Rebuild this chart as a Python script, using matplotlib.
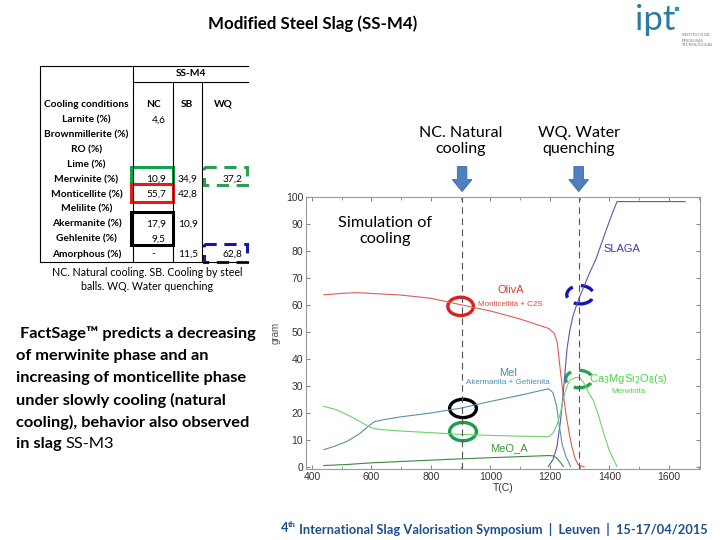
import matplotlib
matplotlib.use("Agg")
import matplotlib.pyplot as plt
from matplotlib.patches import Ellipse, Rectangle, FancyArrow
from matplotlib.ticker import MultipleLocator

# ---- FactSage cooling simulation (T in C, mass in gram) ----
t_oliv = [440, 500, 550, 600, 700, 800, 905, 1000, 1100, 1196, 1215, 1225, 1235, 1245, 1255, 1265, 1275, 1285, 1295, 1305, 1315]
oliv = [63.8, 64.3, 64.6, 64.3, 63.7, 62.5, 60.0, 57.8, 54.8, 51.3, 49.5, 46.0, 36.0, 27.0, 19.0, 12.5, 7.0, 3.0, 0.8, 0.2, 0.0]

t_slag = [1195, 1210, 1224, 1236, 1247, 1258, 1268, 1278, 1290, 1300, 1315, 1336, 1355, 1370, 1390, 1410, 1426, 1655]
slag = [0.0, 2.5, 7.4, 17.0, 29.7, 44.0, 51.0, 56.0, 60.0, 63.0, 67.0, 72.5, 77.0, 81.7, 88.0, 94.0, 98.4, 98.4]

t_mel = [440, 480, 520, 560, 590, 610, 640, 700, 800, 905, 1000, 1100, 1196, 1210, 1222, 1232, 1242, 1255, 1270]
mel = [6.3, 7.7, 9.5, 12.2, 15.0, 16.7, 17.4, 18.5, 19.9, 21.8, 24.2, 26.5, 28.9, 27.5, 23.0, 15.0, 8.0, 3.5, 0.0]

t_merw = [440, 480, 520, 560, 590, 610, 640, 700, 800, 905, 1000, 1100, 1196, 1210, 1224, 1236, 1247, 1258, 1269, 1285, 1300, 1315, 1330, 1347, 1365, 1381, 1400, 1426]
merw = [22.4, 21.2, 19.2, 16.8, 14.9, 14.1, 13.7, 13.2, 12.6, 11.9, 11.6, 11.3, 11.1, 12.3, 15.5, 20.0, 26.0, 30.0, 32.2, 33.0, 33.2, 31.0, 27.5, 24.5, 18.5, 12.4, 6.0, 0.0]

t_meo = [440, 520, 600, 700, 800, 905, 1000, 1100, 1195, 1212, 1225, 1236, 1246]
meo = [0.4, 0.8, 1.4, 1.9, 2.4, 2.9, 3.3, 3.7, 4.1, 4.0, 3.0, 1.5, 0.0]

t_nc, t_wq = 905, 1297

# ---- table (XRD quantification) ----
rows = ["Cooling conditions", "Larnite (%)", "Brownmillerite (%)", "RO (%)", "Lime (%)",
        "Merwinite (%)", "Monticellite (%)", "Melilite (%)", "Akermanite (%)",
        "Gehlenite (%)", "Amorphous (%)"]
col_nc = ["NC", "4,6", "", "", "", "10,9", "55,7", "", "17,9", "9,5", "-"]
col_sb = ["SB", "", "", "", "", "34,9", "42,8", "", "10,9", "", "11,5"]
col_wq = ["WQ", "", "", "", "", "37,2", "", "", "", "", "62,8"]

SLIDE = "Lato"
CHART = "Liberation Sans"

fig = plt.figure(figsize=(7.2, 5.4), dpi=100)
bg = fig.add_axes([0, 0, 1, 1])
bg.set_xlim(0, 720)
bg.set_ylim(540, 0)
bg.axis("off")

# title + logo
bg.text(313, 24, "Modified Steel Slag (SS-M4)", ha="center", va="center",
        fontsize=12.2, fontweight="bold", family=SLIDE)
bg.text(655, 30, "ipt", ha="center", va="baseline", fontsize=25, color="#2a7ca0", family=SLIDE)
bg.add_patch(Rectangle((675, 7), 3, 3, color="#2aa0a0"))
for i, s in enumerate(["INSTITUTO DE", "PESQUISAS", "TECNOLÓGICAS"]):
    bg.text(682, 35 + i * 5, s, fontsize=3, color="#777777", va="center", family=SLIDE)

# table
top, hdr, bot = 66, 82, 262
xl, xc1, xc2, xc3, xr = 40, 133, 173, 202, 248
lk = dict(color="black", lw=0.8)
bg.plot([xl, xr], [top, top], **lk)
bg.plot([xc1, xr], [hdr, hdr], **lk)
bg.plot([xl, xr], [bot, bot], **lk)
bg.plot([xl, xl], [top, bot], **lk)
bg.plot([xc1, xc1], [top, bot], **lk)
bg.plot([xc2, xc2], [hdr, bot], **lk)
bg.plot([xc3, xc3], [hdr, bot], **lk)
bg.text((xc1 + xr) / 2, 74, "SS-M4", ha="center", va="center", fontsize=7.3,
        fontweight="bold", family=SLIDE)
tk = dict(va="center", fontsize=7.3, family=SLIDE)
for i, name in enumerate(rows):
    y = 104.5 if i == 0 else 120 + 14.9 * (i - 1)
    bg.text((xl + xc1) / 2, y, name, ha="center", fontweight="bold", **tk)
    if i == 0:
        for x, s in [(153, col_nc[0]), (187, col_sb[0]), (223, col_wq[0])]:
            bg.text(x, y, s, ha="center", fontweight="bold", **tk)
        continue
    if col_nc[i] == "-":
        bg.text(153, y, col_nc[i], ha="center", **tk)
    elif col_nc[i]:
        bg.text(166, y, col_nc[i], ha="right", **tk)
    if col_sb[i]:
        bg.text(188, y, col_sb[i], ha="center", **tk)
    if col_wq[i]:
        bg.text(242, y, col_wq[i], ha="right", **tk)

# highlight boxes on table
dash = (0, (4, 2.5))
bg.add_patch(Rectangle((131, 167), 42, 17, fill=False, ec="#16a04c", lw=2.2))
bg.add_patch(Rectangle((131, 184), 42, 18, fill=False, ec="#e01e1e", lw=2.2))
bg.add_patch(Rectangle((131, 212), 42, 33, fill=False, ec="black", lw=2.2))
bg.add_patch(Rectangle((204, 167), 43, 18, fill=False, ec="#2aa050", lw=2.2, ls=dash))
bg.add_patch(Rectangle((204, 244), 43, 18, fill=False, ec="#1515b5", lw=2.2, ls=dash))

bg.text(147, 273, "NC. Natural cooling. SB. Cooling by steel", ha="center", va="center",
        fontsize=7.7, family=SLIDE)
bg.text(147, 287, "balls. WQ. Water quenching", ha="center", va="center",
        fontsize=7.7, family=SLIDE)

# paragraph
para = [" FactSage\u2122 predicts a decreasing", "of merwinite phase and an",
        "increasing of monticellite phase", "under slowly cooling (natural",
        "cooling), behavior also observed", "in slag"]
for i, s in enumerate(para):
    t_last = bg.text(16, 334 + 22 * i, s, ha="left", va="center", fontsize=11.8,
                     fontweight="bold", family=SLIDE)
bg.annotate("SS-M3", xy=(1, 0), xycoords=t_last, xytext=(3, 0), textcoords="offset points",
            ha="left", va="bottom", fontsize=11.8, family=SLIDE)

# labels above the chart
for x, s in [(461, "NC. Natural\ncooling"), (579, "WQ. Water\nquenching")]:
    bg.text(x, 141, s, ha="center", va="center", fontsize=11.5, family=SLIDE, linespacing=1.2)

# footer
foot = bg.text(708, 529, " International Slag Valorisation Symposium  |  Leuven  |  15-17/04/2015",
               ha="right", va="center", fontsize=9.3, fontweight="bold", color="#1c4f8c", family=SLIDE)
th = bg.annotate("th", xy=(0, 1), xycoords=foot, xytext=(0, 1), textcoords="offset points",
                 ha="right", va="top", fontsize=6, fontweight="bold", color="#1c4f8c", family=SLIDE)
bg.annotate("4", xy=(0, 0), xycoords=th, xytext=(0, -4.5), textcoords="offset points",
            ha="right", va="bottom", fontsize=9.3, fontweight="bold", color="#1c4f8c", family=SLIDE)

# ---- chart ----
ax = fig.add_axes([306 / 720, 1 - 469.3 / 540, 394 / 720, 272 / 540])
lw = 0.8
ax.plot(t_oliv, oliv, color="#e05a5a", lw=lw)
ax.plot(t_slag, slag, color="#5858b0", lw=lw)
ax.plot(t_mel, mel, color="#5b8fa8", lw=lw)
ax.plot(t_merw, merw, color="#6ad46a", lw=lw)
ax.plot(t_meo, meo, color="#3a8a3a", lw=lw)
for t in (t_nc, t_wq):
    ax.axvline(t, color="#555555", lw=0.8, ls=(0, (6, 4)))

ax.set_xlim(380, 1705)
ax.set_ylim(-1, 100)
ax.xaxis.set_major_locator(MultipleLocator(200))
ax.xaxis.set_minor_locator(MultipleLocator(100))
ax.yaxis.set_major_locator(MultipleLocator(10))
ax.tick_params(which="both", direction="in", top=True, right=True, color="#888888",
               labelsize=7.5, labelcolor="#333333", pad=2)
ax.tick_params(which="major", length=3)
ax.tick_params(which="minor", length=2)
for lab in ax.get_xticklabels() + ax.get_yticklabels():
    lab.set_family(CHART)
for sp in ax.spines.values():
    sp.set_color("#999999")
ax.set_xlabel("T(C)", fontsize=7.5, family=CHART, color="#333333", labelpad=1)
ax.set_ylabel("gram", fontsize=7, family=CHART, color="#555555", labelpad=4)

ck = dict(family=CHART, ha="center", va="center")
ax.text(1068, 65.5, "OlivA", color="#e03c3c", fontsize=8, **ck)
ax.text(1068, 60.3, "Monticellita + C2S", color="#e04848", fontsize=5.8, **ck)
ax.text(1443, 80.8, "SLAGA", color="#3c3cb8", fontsize=8, **ck)
ax.text(1058, 34.8, "Mel", color="#4a8fb0", fontsize=8, **ck)
ax.text(1058, 31.3, "Akermanita + Gehlenita", color="#4a8fb0", fontsize=5.8, **ck)
ax.text(1465, 32.4, "Ca$_3$MgSi$_2$O$_8$(s)", color="#44d844", fontsize=8, **ck)
ax.text(1465, 27.8, "Merwinita", color="#44d844", fontsize=5.8, **ck)
ax.text(1062, 6.8, "MeO_A", color="#3a9a3a", fontsize=8, **ck)
ax.text(647, 87.6, "Simulation of\ncooling", fontsize=11.7, family=SLIDE, ha="center",
        va="center", linespacing=1.2)

# highlight ellipses on the chart
ek = dict(fill=False, lw=2.4)
ax.add_patch(Ellipse((900, 59.5), 86, 6.8, ec="#e01e1e", **ek))
ax.add_patch(Ellipse((908, 21.6), 90, 6.8, ec="black", **ek))
ax.add_patch(Ellipse((908, 13.0), 90, 6.8, ec="#16a04c", **ek))
ax.add_patch(Ellipse((1302, 63.8), 90, 6.8, ec="#1515b5", ls=dash, **ek))
ax.add_patch(Ellipse((1298, 32.5), 90, 6.5, ec="#2aa050", ls=dash, **ek))

# arrows pointing at the two cooling conditions
trans = ax.get_xaxis_transform()
for t in (t_nc, t_wq):
    ax.add_patch(FancyArrow(t, 1.113, 0, -0.092, width=32, head_width=66, head_length=0.044,
                            length_includes_head=True, transform=trans, clip_on=False,
                            fc="#4f7fbf", ec="#3a68a8", lw=0.6))

fig.savefig("out.png", dpi=100)
